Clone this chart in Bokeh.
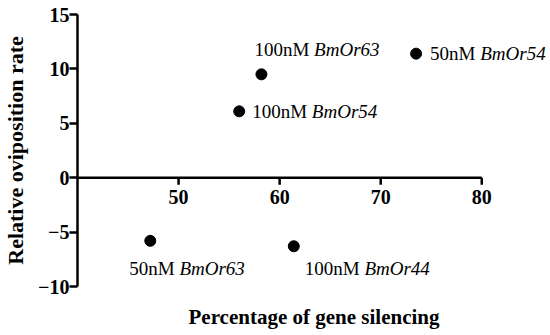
from bokeh.plotting import figure
from bokeh.models import Range1d, FixedTicker, ColumnDataSource, LinearAxis
from bokeh.core.properties import value
from bokeh.embed import file_html
from bokeh.resources import INLINE

# ---- data ----
silencing = [47.2, 61.4, 58.2, 56.0, 73.5]
oviposition = [-5.8, -6.3, 9.5, 6.1, 11.4]
dose = ["50nM", "100nM", "100nM", "100nM", "50nM"]
gene = ["BmOr63", "BmOr44", "BmOr63", "BmOr54", "BmOr54"]
x_ticks = [50, 60, 70, 80]
x_start = 40
y_ticks = [-10, -5, 0, 5, 10, 15]
y_tick_labels = ["\u221210", "\u22125", "0", "5", "10", "15"]

# ---- styles ----
FONT = "Liberation Serif"
ANN_SIZE = 19
label_dx = [-21, 11, -7, 13, 14]
label_dy = [28, 22, -25, 0, 0]
char_w = {"0": .5, "1": .5, "5": .5, "n": .5, "M": .889, " ": .25}
prefix = [d + " " for d in dose]
prefix_w = [sum(char_w[c] for c in s) * ANN_SIZE for s in prefix]

p = figure(width=550, height=335, output_backend="svg", toolbar_location=None,
           x_range=Range1d(x_start, 86.8), y_range=Range1d(y_ticks[0], y_ticks[-1]),
           min_border_left=75, min_border_right=0, min_border_top=14, min_border_bottom=49,
           x_axis_location=None, y_axis_location=None)
p.outline_line_color = None
p.xgrid.visible = False
p.ygrid.visible = False
p.background_fill_color = "white"

# left y axis
ya = LinearAxis(ticker=FixedTicker(ticks=y_ticks), bounds=(y_ticks[0], y_ticks[-1]))
ya.major_label_overrides = {t: s for t, s in zip(y_ticks, y_tick_labels)}
ya.axis_line_width = 2.5
ya.major_tick_line_width = 2.5
ya.major_tick_out = 8
ya.major_tick_in = 0
ya.minor_tick_line_color = None
ya.major_label_standoff = 0
ya.major_label_text_font = FONT
ya.major_label_text_font_style = "bold"
ya.major_label_text_font_size = "20px"
ya.major_label_text_color = "black"
ya.axis_label = "Relative oviposition rate"
ya.axis_label_text_font = FONT
ya.axis_label_text_font_style = "bold"
ya.axis_label_text_font_size = "22px"
ya.axis_label_text_color = "black"
ya.axis_label_standoff = 7
p.add_layout(ya, "left")

# below axis used only for its title
xa = LinearAxis(ticker=FixedTicker(ticks=[]))
xa.axis_line_color = None
xa.major_tick_out = 0
xa.major_tick_in = 0
xa.minor_tick_line_color = None
xa.major_label_standoff = 0
xa.axis_label = "Percentage of gene silencing"
xa.axis_label_text_font = FONT
xa.axis_label_text_font_style = "bold"
xa.axis_label_text_font_size = "21px"
xa.axis_label_text_color = "black"
xa.axis_label_standoff = 18
p.add_layout(xa, "below")

# x axis crossing at y = 0
p.segment(x0=[x_start], y0=[0], x1=[x_ticks[-1]], y1=[0], line_color="black", line_width=2.5)
p.ray(x=x_ticks, y=[0] * len(x_ticks), length=7, length_units="screen", angle=-1.5707963,
      line_color="black", line_width=2.5)
p.text(x=x_ticks, y=[0] * len(x_ticks), text=[str(t) for t in x_ticks], y_offset=12,
       text_align="center", text_baseline="top", text_font=value(FONT),
       text_font_style="bold", text_font_size="20px", text_color="black")

src = ColumnDataSource(dict(x=silencing, y=oviposition, dose=prefix, gene=gene,
                            dx=label_dx, dy=label_dy,
                            dx2=[a + b for a, b in zip(label_dx, prefix_w)]))
p.scatter("x", "y", source=src, size=11, color="black")
p.text("x", "y", text="dose", source=src, x_offset="dx", y_offset="dy",
       text_align="left", text_baseline="middle", text_font=value(FONT),
       text_font_size=f"{ANN_SIZE}px", text_color="black")
p.text("x", "y", text="gene", source=src, x_offset="dx2", y_offset="dy",
       text_align="left", text_baseline="middle", text_font=value(FONT),
       text_font_style="italic", text_font_size=f"{ANN_SIZE}px", text_color="black")

open("out.html", "w").write(file_html(p, INLINE))
